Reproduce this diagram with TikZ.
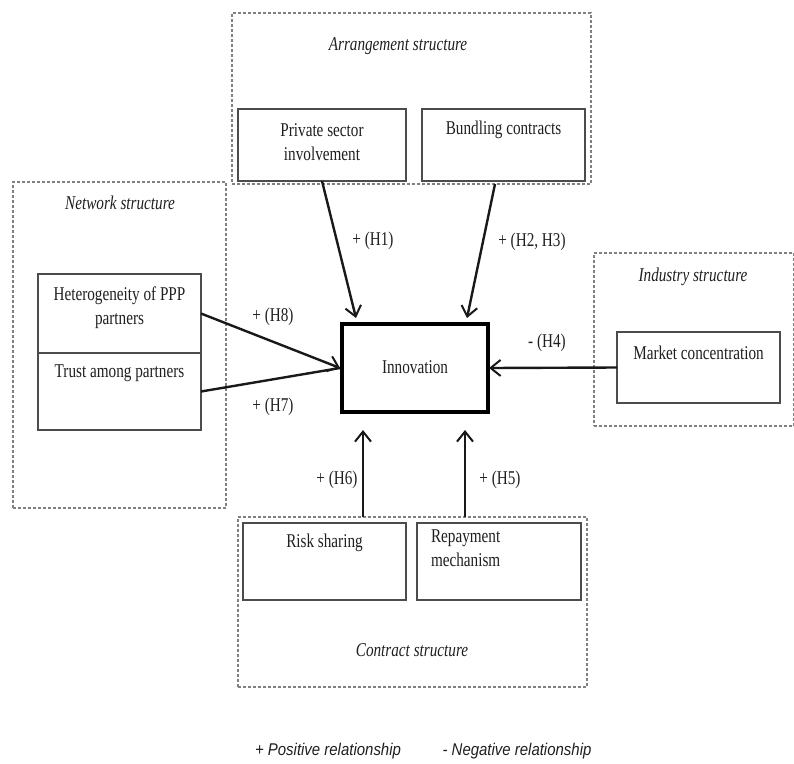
\documentclass[tikz,border=0pt]{standalone}
\usepackage{fontspec}
\setmainfont{Liberation Serif}[FakeStretch=0.78]
\newfontfamily\legendfont{Liberation Sans}[FakeStretch=0.88]
\usetikzlibrary{arrows.meta,calc}
\begin{document}
\begin{tikzpicture}[x=1pt,y=-1pt,
  every node/.style={inner sep=0pt,outer sep=0pt,text=black!88},
  txt/.style={font=\fontsize{19.5}{23.5}\selectfont,align=center},
  ttl/.style={font=\fontsize{19.5}{22}\selectfont\itshape},
  lbl/.style={font=\fontsize{19.5}{22}\selectfont},
  box/.style={draw=black!70,line width=1.8pt,anchor=north west},
  grp/.style={draw=black!50,line width=1.6pt,dash pattern=on 3pt off 2pt,anchor=north west},
  arr/.style={draw=black!90,line width=2.4pt,-{Straight Barb[length=10pt,width=16pt,line width=2pt]}},
  lnk/.style={draw=black!90,line width=2.4pt}
]
\useasboundingbox (0,0) rectangle (794,763);

% group boxes
\node[grp,minimum width=359,minimum height=171] (ag) at (232,13) {};
\node[grp,minimum width=213,minimum height=326] (ng) at (13,182) {};
\node[grp,minimum width=200,minimum height=173] (ig) at (594,253) {};
\node[grp,minimum width=349,minimum height=170] (cg) at (238,517) {};

% group titles
\node[ttl] (agt) at (398,46) {Arrangement structure};
\node[ttl] (ngt) at (120,203) {Network structure};
\node[ttl] (igt) at (693,277) {Industry structure};
\node[ttl] (cgt) at (412,650) {Contract structure};

% boxes
\node[box,minimum width=168,minimum height=72] (ps) at (238,109) {};
\node[txt] (pst) at (322,142) {Private sector\\involvement};
\node[box,minimum width=163,minimum height=72] (bc) at (422,109) {};
\node[txt] (bct) at (503.5,130) {Bundling contracts};

\node[box,minimum width=163,minimum height=79] (het) at (38,274) {};
\node[txt] (hett) at (119.5,307.5) {Heterogeneity of PPP\\partners};
\node[box,minimum width=163,minimum height=77] (tr) at (38,353) {};
\node[txt] (trt) at (119.5,373) {Trust among partners};

\node[draw=black,line width=4pt,minimum width=146,minimum height=88] (inn) at (415,368) {};
\node[txt] (innt) at (415,367) {Innovation};

\node[box,minimum width=163,minimum height=71] (mc) at (617,332) {};
\node[txt] (mct) at (698.5,353) {Market concentration};

\node[box,minimum width=163,minimum height=77] (rs) at (243,523) {};
\node[txt] (rst) at (324.5,543) {Risk sharing};
\node[box,minimum width=164,minimum height=77] (rp) at (417,523) {};
\node[txt,align=left,anchor=north west] (rpt) at (431,530) {Repayment\\mechanism};

% connector end points
\coordinate (h1e) at (356,318);
\coordinate (h2s) at (495,184);
\coordinate (h2e) at (467,318);
\coordinate (h6s) at (363,517);
\coordinate (h6e) at (363,430);
\coordinate (h5s) at (465,517);
\coordinate (h5e) at (465,430);
\coordinate (innw) at (340,368);
\coordinate (inne) at (489,368);

% connectors
\draw[arr] (ps.south) -- (h1e);
\draw[arr] (h2s) -- (h2e);
\draw[arr] (het.east) -- (innw);
\draw[lnk] (tr.east) -- (innw);
\draw[arr] (mc.west) -- (inne);
\draw[arr] (h6s) -- (h6e);
\draw[arr] (h5s) -- (h5e);

% labels
\node[lbl] (l1) at (373,241) {+ (H1)};
\node[lbl] (l23) at (532,242) {+ (H2, H3)};
\node[lbl] (l8) at (273,317) {+ (H8)};
\node[lbl] (l7) at (273,407) {+ (H7)};
\node[lbl] (l4) at (547,343) {- (H4)};
\node[lbl] (l6) at (337,480) {+ (H6)};
\node[lbl] (l5) at (500,480) {+ (H5)};

% legend
\node[font=\legendfont\itshape\fontsize{17}{20}\selectfont] (lgp) at (328,751) {+ Positive relationship};
\node[font=\legendfont\itshape\fontsize{17}{20}\selectfont] (lgn) at (517,751) {- Negative relationship};
\end{tikzpicture}
\end{document}
